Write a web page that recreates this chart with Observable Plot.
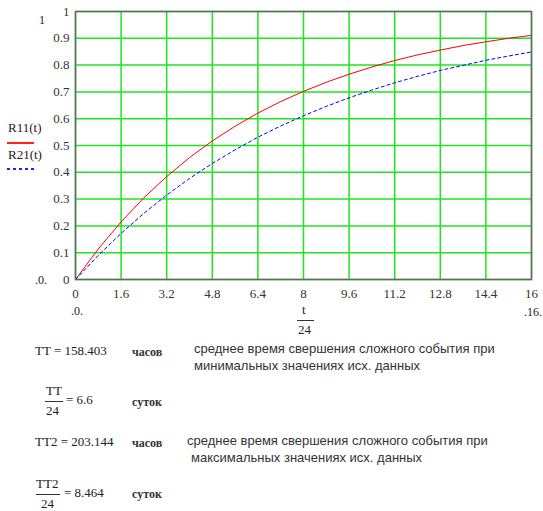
<!DOCTYPE html>
<html><head><meta charset="utf-8">
<script src="https://cdn.jsdelivr.net/npm/d3@7"></script>
<script src="https://cdn.jsdelivr.net/npm/@observablehq/plot@0.6"></script>
<style>
body{margin:0;background:#fff}
#wrap{position:relative;width:543px;height:511px;font-family:"Liberation Serif","Times New Roman",serif;color:#222;overflow:hidden}
#wrap svg{position:absolute;left:0;top:0}
#wrap svg text{font-family:"Liberation Serif","Times New Roman",serif !important;font-size:13px}
.a{position:absolute;white-space:nowrap;line-height:16px;font-size:13px;font-family:"Liberation Serif",serif}
.s{font-family:"Liberation Sans",Arial,sans-serif;font-size:13px;color:#333}
.u{font-size:12px;font-weight:bold;color:#333}
.bar{position:absolute;height:1px;background:#333}
</style></head>
<body><div id="wrap"></div>
<script>
// time in days (t/24)
const days = [0,0.8,1.6,2.4,3.2,4.0,4.8,5.6,6.4,7.2,8.0,8.8,9.6,10.4,11.2,12.0,12.8,13.6,14.4,15.2,16];
// R11(t) – red solid
const r11 = [0,0.114,0.215,0.305,0.384,0.455,0.517,0.572,0.621,0.664,0.702,0.736,0.766,0.793,0.817,0.838,0.856,0.873,0.887,0.900,0.911];
// R21(t) – blue dashed
const r21 = [0,0.090,0.172,0.247,0.315,0.377,0.433,0.484,0.531,0.573,0.611,0.646,0.678,0.707,0.734,0.758,0.780,0.799,0.818,0.834,0.849];
const xTicks = [0,1.6,3.2,4.8,6.4,8,9.6,11.2,12.8,14.4,16];
const yTicks = [0,0.1,0.2,0.3,0.4,0.5,0.6,0.7,0.8,0.9,1];

const data = days.map((d,i)=>({d, r11:r11[i], r21:r21[i]}));
const fmt = v => String(+(+v).toFixed(1));
const green = "#1ee61e";

const chart = Plot.plot({
  width:543, height:340,
  marginLeft:75, marginRight:12, marginTop:11, marginBottom:61,
  style:{fontFamily:"Liberation Serif, serif", fontSize:"13px", color:"#333", background:"transparent"},
  x:{domain:[0,16]},
  y:{domain:[0,1]},
  marks:[
    Plot.gridX(xTicks,{stroke:green, strokeOpacity:1, strokeWidth:1.5}),
    Plot.gridY(yTicks,{stroke:green, strokeOpacity:1, strokeWidth:1.5}),
    Plot.axisX({ticks:xTicks, tickSize:0, tickPadding:9, label:null, tickFormat:fmt}),
    Plot.axisY({ticks:yTicks, tickSize:0, tickPadding:6, label:null, tickFormat:fmt}),
    Plot.lineY(data,{x:"d", y:"r11", stroke:"#ff0000", strokeWidth:1}),
    Plot.lineY(data,{x:"d", y:"r21", stroke:"#0000ff", strokeWidth:1, strokeDasharray:"3,3"}),
    Plot.frame({stroke:"#666", strokeWidth:1.5})
  ]
});
const wrap = document.getElementById("wrap");
wrap.appendChild(chart);
chart.querySelectorAll("text").forEach(t => t.setAttribute("font-family", "Liberation Serif, serif"));

function put(text, x, y, cls, extra){
  const d = document.createElement("div");
  d.className = "a " + (cls||"");
  d.textContent = text;
  d.style.left = x + "px";
  d.style.top = (y - 8) + "px";
  if (extra) Object.assign(d.style, extra);
  wrap.appendChild(d);
  return d;
}
function bar(x1, x2, y, color, dash, h){
  const b = document.createElement("div");
  b.className = "bar";
  b.style.left = x1 + "px";
  b.style.width = (x2 - x1) + "px";
  b.style.top = y + "px";
  if (h) b.style.height = h + "px";
  if (color) b.style.background = color;
  if (dash) b.style.background = "repeating-linear-gradient(90deg," + color + " 0 3px, transparent 3px 6px)";
  wrap.appendChild(b);
}
// Mathcad plot annotations
put("1", 39, 20, "", {fontSize:"12px"});
put(".0.", 35, 280, "", {fontSize:"12px"});
put(".0.", 71, 311, "", {fontSize:"12px"});
put(".16.", 524, 312, "", {fontSize:"12px"});
put("t", 302, 310, "", {fontSize:"13px"});
bar(297, 314, 320);
put("24", 298, 330, "", {fontSize:"13px"});
// legend
put("R11(t)", 8, 128, "", {fontSize:"13px"});
bar(7, 34, 142, "#ff2020", false, 2);
put("R21(t)", 8, 155, "", {fontSize:"13px"});
bar(7, 34, 168, "#2020ff", true, 2);

// results
put("TT = 158.403", 35, 351);
put("часов", 132, 352, "u");
put("среднее время свершения сложного события при", 194, 349, "s");
put("минимальных значениях исх. данных", 194, 366, "s");
put("TT", 46, 391);
bar(45, 63, 401);
put("24", 46, 411);
put("= 6.6", 66, 400);
put("суток", 132, 402, "u");
put("TT2 = 203.144", 35, 442);
put("часов", 132, 443, "u");
put("среднее время свершения сложного события при", 187, 441, "s");
put("максимальных значениях исх. данных", 191, 458, "s");
put("TT2", 36, 484);
bar(36, 60, 494);
put("24", 41, 504);
put("= 8.464", 64, 493);
put("суток", 132, 494, "u");
</script>
</body></html>
